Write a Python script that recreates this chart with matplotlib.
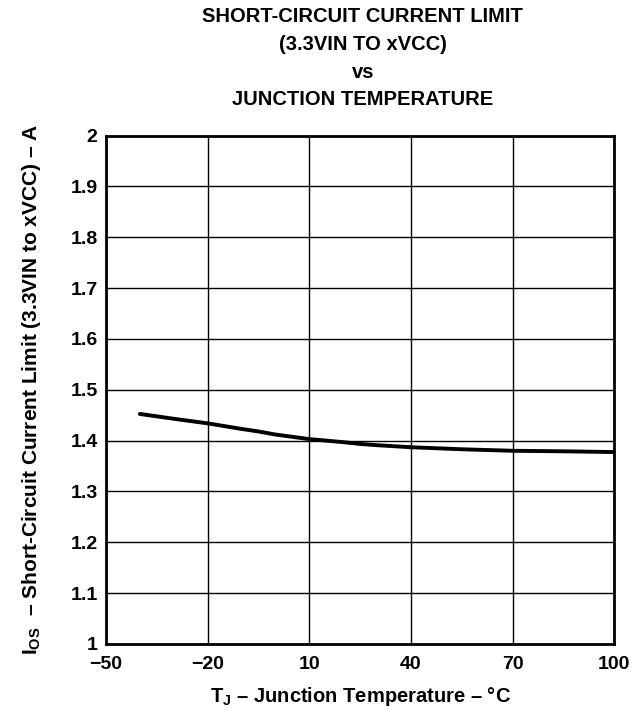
import matplotlib
matplotlib.use("Agg")
import matplotlib.pyplot as plt

plt.rcParams["font.family"] = ["Liberation Sans", "DejaVu Sans"]
plt.rcParams["font.weight"] = "bold"
plt.rcParams["axes.labelweight"] = "bold"
plt.rcParams["mathtext.fontset"] = "custom"
plt.rcParams["mathtext.rm"] = "Liberation Sans:bold"
plt.rcParams["mathtext.it"] = "Liberation Sans:bold"
plt.rcParams["mathtext.bf"] = "Liberation Sans:bold"

# junction temperature (°C) and short-circuit current limit (A)
temp_c = [-40, -30, -20, -10, -5, 0, 10, 20, 25, 30, 40, 55, 70, 85, 100]
i_os = [1.4525, 1.443, 1.434, 1.423, 1.418, 1.412, 1.403, 1.397, 1.3935, 1.391, 1.387, 1.383, 1.380, 1.379, 1.3775]

x_ticks = [-50, -20, 10, 40, 70, 100]
x_labels = ["\u221250", "\u221220", "10", "40", "70", "100"]
y_ticks = [1, 1.1, 1.2, 1.3, 1.4, 1.5, 1.6, 1.7, 1.8, 1.9, 2]
y_labels = ["1", "1.1", "1.2", "1.3", "1.4", "1.5", "1.6", "1.7", "1.8", "1.9", "2"]

fig = plt.figure(figsize=(6.42, 7.10), dpi=100)
ax = fig.add_axes([0.165, 0.093, 0.792, 0.716])

ax.plot(temp_c, i_os, color="black", linewidth=2.8, solid_capstyle="round")

ax.set_xlim(-50, 100)
ax.set_ylim(1, 2)
ax.set_xticks(x_ticks)
ax.set_xticklabels(x_labels)
ax.set_yticks(y_ticks)
ax.set_yticklabels(y_labels)
ax.tick_params(length=0, labelsize=14)
ax.tick_params(axis="x", pad=9)
ax.tick_params(axis="y", pad=6)
ax.grid(True, color="black", linewidth=1.0)
for sp in ax.spines.values():
    sp.set_linewidth(2.0)

ax.set_xlabel("T$_J$ \u2013 Junction Temperature \u2013 \u00b0C", fontsize=14.5, labelpad=8)
ax.set_ylabel("I$_{OS}$  \u2013 Short-Circuit Current Limit (3.3VIN to xVCC) \u2013 A",
              fontsize=15, labelpad=20)

fig.text(0.565, 0.99, "SHORT-CIRCUIT CURRENT LIMIT\n(3.3VIN TO xVCC)\nvs\nJUNCTION TEMPERATURE",
         ha="center", va="top", fontsize=14.5, fontweight="bold", linespacing=1.58)

fig.savefig("out.png", dpi=100)
